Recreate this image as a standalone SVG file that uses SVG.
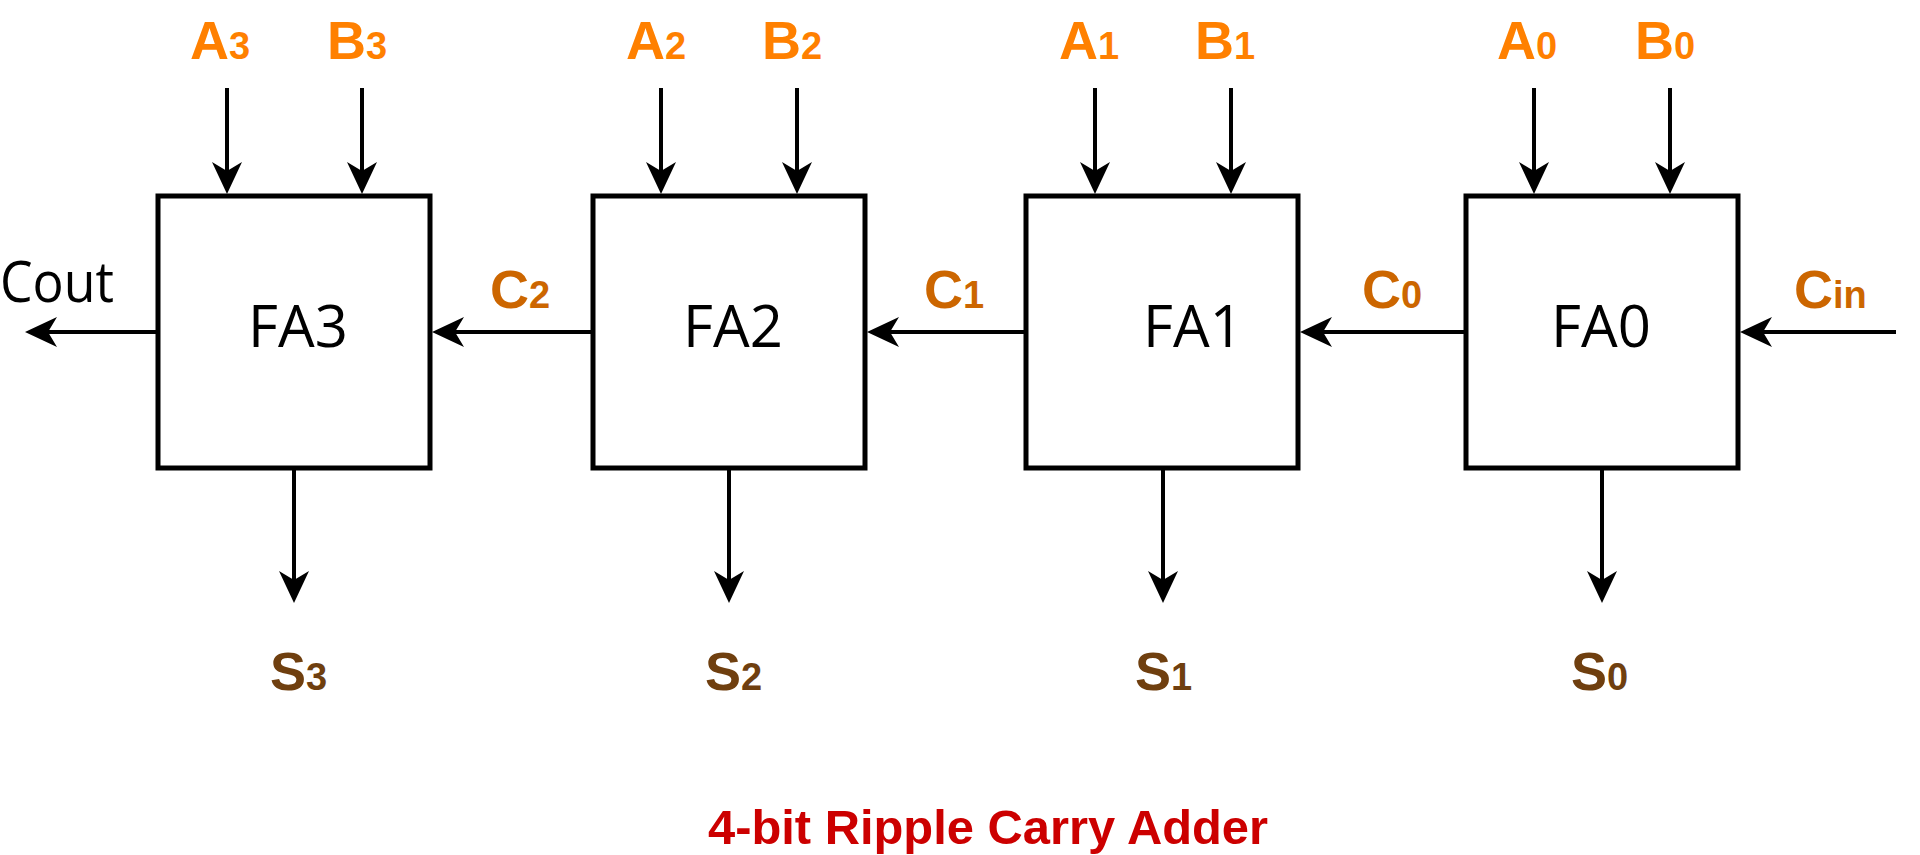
<svg xmlns="http://www.w3.org/2000/svg" width="1920" height="855" viewBox="0 0 1920 855">
<style>
.box{fill:#fff;stroke:#000;stroke-width:5}
.fa{font-family:"Open Sans","Noto Sans",sans-serif;font-size:58px;fill:#000;text-anchor:middle}
.wire{fill:none;stroke:#000;stroke-width:4;marker-end:url(#ah)}
.lbl{font-family:"Liberation Sans",Arial,sans-serif;font-weight:bold;font-size:54px}
.sub{font-size:38px}
.ab{fill:#FF8000}
.c{fill:#CC6600}
.s{fill:#6F3F0F}
.title{font-family:"Liberation Sans",Arial,sans-serif;font-weight:bold;font-size:48px;fill:#CC0000}
.cout{font-family:"Open Sans","Noto Sans",sans-serif;font-size:56px;fill:#000}
</style>
<defs>
<marker id="ah" markerUnits="userSpaceOnUse" viewBox="0 0 32 32" refX="26" refY="16" markerWidth="32" markerHeight="32" orient="auto">
<path d="M0,1 L32,16 L0,31 L9,16 Z" fill="#000"/>
</marker>
</defs>
<rect width="1920" height="855" fill="#fff"/>
<g id="connectors">
<line class="wire" x1="227" y1="88" x2="227" y2="188"/>
<line class="wire" x1="362" y1="88" x2="362" y2="188"/>
<line class="wire" x1="661" y1="88" x2="661" y2="188"/>
<line class="wire" x1="797" y1="88" x2="797" y2="188"/>
<line class="wire" x1="1095" y1="88" x2="1095" y2="188"/>
<line class="wire" x1="1231" y1="88" x2="1231" y2="188"/>
<line class="wire" x1="1534" y1="88" x2="1534" y2="188"/>
<line class="wire" x1="1670" y1="88" x2="1670" y2="188"/>
<line class="wire" x1="294" y1="468" x2="294" y2="597"/>
<line class="wire" x1="729" y1="468" x2="729" y2="597"/>
<line class="wire" x1="1163" y1="468" x2="1163" y2="597"/>
<line class="wire" x1="1602" y1="468" x2="1602" y2="597"/>
<line class="wire" x1="158" y1="332" x2="31" y2="332"/>
<line class="wire" x1="593" y1="332" x2="438" y2="332"/>
<line class="wire" x1="1026" y1="332" x2="873" y2="332"/>
<line class="wire" x1="1466" y1="332" x2="1306" y2="332"/>
<line class="wire" x1="1896" y1="332" x2="1746" y2="332"/>
</g>
<g id="FA3"><rect class="box" x="158" y="196" width="272" height="272"/><text class="fa" x="298" y="347">FA3</text></g>
<g id="FA2"><rect class="box" x="593" y="196" width="272" height="272"/><text class="fa" x="733" y="347">FA2</text></g>
<g id="FA1"><rect class="box" x="1026" y="196" width="272" height="272"/><text class="fa" x="1193" y="347">FA1</text></g>
<g id="FA0"><rect class="box" x="1466" y="196" width="272" height="272"/><text class="fa" x="1601" y="347">FA0</text></g>
<g id="inputs">
<text class="lbl ab" x="190" y="59">A<tspan class="sub">3</tspan></text>
<text class="lbl ab" x="327" y="59">B<tspan class="sub">3</tspan></text>
<text class="lbl ab" x="626" y="59">A<tspan class="sub">2</tspan></text>
<text class="lbl ab" x="762" y="59">B<tspan class="sub">2</tspan></text>
<text class="lbl ab" x="1059" y="59">A<tspan class="sub">1</tspan></text>
<text class="lbl ab" x="1195" y="59">B<tspan class="sub">1</tspan></text>
<text class="lbl ab" x="1497" y="59">A<tspan class="sub">0</tspan></text>
<text class="lbl ab" x="1635" y="59">B<tspan class="sub">0</tspan></text>
</g>
<g id="carries">
<text class="cout" x="0" y="302" textLength="114" lengthAdjust="spacingAndGlyphs">Cout</text>
<text class="lbl c" x="490" y="308">C<tspan class="sub">2</tspan></text>
<text class="lbl c" x="924" y="308">C<tspan class="sub">1</tspan></text>
<text class="lbl c" x="1362" y="308">C<tspan class="sub">0</tspan></text>
<text class="lbl c" x="1794" y="308">C<tspan class="sub">in</tspan></text>
</g>
<g id="sums">
<text class="lbl s" x="270" y="690">S<tspan class="sub">3</tspan></text>
<text class="lbl s" x="705" y="690">S<tspan class="sub">2</tspan></text>
<text class="lbl s" x="1135" y="690">S<tspan class="sub">1</tspan></text>
<text class="lbl s" x="1571" y="690">S<tspan class="sub">0</tspan></text>
</g>
<g id="caption">
<text class="title" x="708" y="844" textLength="560" lengthAdjust="spacingAndGlyphs">4-bit Ripple Carry Adder</text>
</g>
</svg>
